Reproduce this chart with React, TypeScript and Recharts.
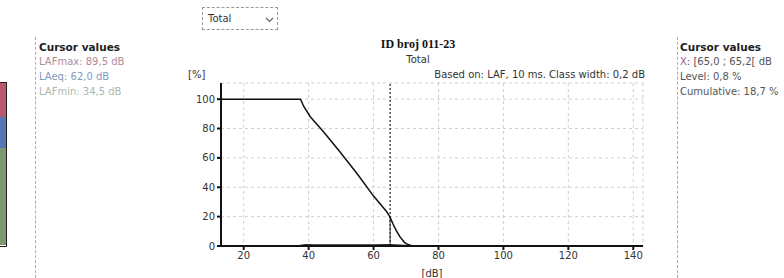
import React from 'react'
import {
  LineChart, Line, XAxis, YAxis, CartesianGrid, ReferenceLine,
} from 'recharts'

// cumulative distribution (percent of time above level)
const cumLevels = [13, 37.5, 38.5, 40.5, 44.5, 49.5, 55, 60, 64, 65, 66, 67, 68.2, 69.5, 70.6, 72]
const cumValues = [100, 100, 95, 88, 78, 64.5, 49, 34, 23.5, 20, 15, 10.5, 6, 2.5, 1, 0]

// level distribution (percent per 0.2 dB class)
const distLevels = [37, 39, 42, 48, 55, 60, 65, 68, 71, 72.5]
const distValues = [0.2, 0.8, 0.7, 0.6, 0.6, 0.6, 0.8, 0.5, 0.2, 0]

const xTicks = [20, 40, 60, 80, 100, 120, 140]
const yTicks = [0, 20, 40, 60, 80, 100]

const cursorX = 65.1
const cursorCum = 20

const leftCursor = [
  { label: 'LAFmax: 89,5 dB', color: '#b08a98' },
  { label: 'LAeq: 62,0 dB', color: '#7f9ac0' },
  { label: 'LAFmin: 34,5 dB', color: '#a9b8ad' },
]

const cumData = cumLevels.map((x, i) => ({ x, y: cumValues[i] }))
const distData = distLevels.map((x, i) => ({ x, y: distValues[i] }))

const FONT = '"DejaVu Sans", Verdana, sans-serif'

const txt = (left: number, top: number, extra: React.CSSProperties = {}): React.CSSProperties => ({
  position: 'absolute', left, top, fontFamily: FONT, fontSize: 10, color: '#555',
  whiteSpace: 'nowrap', lineHeight: '12px', ...extra,
})

export default function App() {
  return (
    <div style={{ position: 'absolute', left: 0, top: 0, width: 784, height: 278, background: '#fff', overflow: 'hidden' }}>
      {/* cut-off legend bar at left edge */}
      <div style={{ position: 'absolute', left: -4, top: 82, width: 9, height: 163, border: '1px solid #222' }}>
        <div style={{ height: 34, background: '#b9586b' }} />
        <div style={{ height: 31, background: '#5676b6' }} />
        <div style={{ height: 97, background: '#7d9a6e' }} />
      </div>

      {/* left cursor panel */}
      <div style={{ position: 'absolute', left: 35, top: 37, height: 241, borderLeft: '1px dashed #aaa' }} />
      <div style={txt(39, 41, { fontWeight: 'bold', color: '#222', fontSize: 10.5 })}>Cursor values</div>
      {leftCursor.map((c, i) => (
        <div key={c.label} style={txt(39, 56 + i * 15, { color: c.color })}>{c.label}</div>
      ))}

      {/* dropdown */}
      <div style={{ position: 'absolute', left: 202, top: 7, width: 76, height: 23, border: '1px dashed #999', boxSizing: 'border-box' }}>
        <span style={txt(5, 5, { color: '#333' })}>Total</span>
        <svg style={{ position: 'absolute', left: 62, top: 9 }} width={9} height={6}>
          <polyline points="1,1 4.5,4.5 8,1" fill="none" stroke="#666" strokeWidth={1.2} />
        </svg>
      </div>

      {/* titles */}
      <div style={txt(318, 38, { width: 200, textAlign: 'center', fontFamily: '"Liberation Serif", serif', fontWeight: 'bold', fontSize: 12, color: '#111' })}>ID broj 011-23</div>
      <div style={txt(318, 54, { width: 200, textAlign: 'center', color: '#333' })}>Total</div>
      <div style={txt(345, 69, { width: 300, textAlign: 'right', color: '#333' })}>Based on: LAF, 10 ms. Class width: 0,2 dB</div>
      <div style={txt(188, 69, { color: '#333' })}>[%]</div>

      <div style={{ position: 'absolute', left: 170, top: 0 }}>
        <LineChart width={490} height={278} margin={{ top: 83, right: 17, bottom: 2, left: 0 }}>
          <CartesianGrid stroke="#cfcfcf" strokeDasharray="3 3" />
          <XAxis
            type="number"
            dataKey="x"
            domain={[13, 143]}
            ticks={xTicks}
            allowDataOverflow
            height={30}
            tickSize={4}
            stroke="#111"
            strokeWidth={2}
            tick={{ fontSize: 10, fill: '#333', fontFamily: FONT }}
            label={{ value: '[dB]', position: 'insideBottom', offset: -1, fontSize: 10, fill: '#333', fontFamily: FONT }}
          />
          <YAxis
            type="number"
            dataKey="y"
            domain={[0, 111]}
            ticks={yTicks}
            allowDataOverflow
            width={51}
            tickSize={4}
            stroke="#111"
            strokeWidth={2}
            tick={{ fontSize: 10, fill: '#333', fontFamily: FONT }}
          />
          <ReferenceLine x={cursorX} stroke="#222" strokeDasharray="2 2" strokeWidth={1.2} />
          <ReferenceLine segment={[{ x: cursorX, y: 0 }, { x: cursorX, y: cursorCum }]} stroke="#333" strokeWidth={1} />
          <Line
            data={distData}
            dataKey="y"
            type="linear"
            stroke="#222"
            strokeWidth={1.5}
            dot={false}
            isAnimationActive={false}
          />
          <Line
            data={cumData}
            dataKey="y"
            type="linear"
            stroke="#111"
            strokeWidth={1.5}
            dot={false}
            isAnimationActive={false}
          />
        </LineChart>
      </div>

      {/* right cursor panel */}
      <div style={{ position: 'absolute', left: 677, top: 37, height: 241, borderLeft: '1px dashed #aaa' }} />
      <div style={txt(680, 41, { fontWeight: 'bold', color: '#222', fontSize: 10.5 })}>Cursor values</div>
      <div style={txt(680, 56)}><span style={{ color: '#9a5a8c' }}>X</span>: [65,0 ; 65,2[ dB</div>
      <div style={txt(680, 71)}>Level: 0,8 %</div>
      <div style={txt(680, 86)}>Cumulative: 18,7 %</div>
    </div>
  )
}
